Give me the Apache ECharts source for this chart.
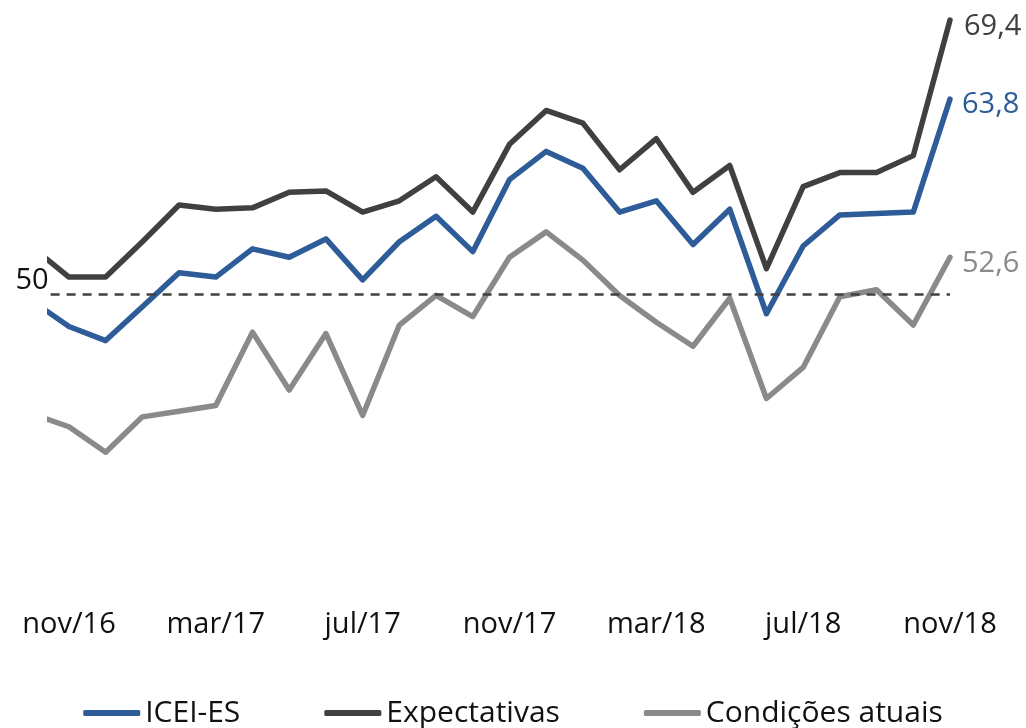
<!DOCTYPE html>
<html>
	<head>
		<meta charset="UTF-8">
		<title>ICEI-ES</title>
		<script type="text/javascript" src="https://cdn.jsdelivr.net/npm/echarts@6/dist/echarts.min.js"></script>
		<style>
			html, body { margin: 0; padding: 0; background: #fff; }
		</style>
	</head>
	<body>
	<div id="main" style="width: 1026px;height: 728px;"></div>
	<script type="text/javascript">
		// meses (indice 0 = out/16, cortado na borda do grafico)
		var meses = ['out/16','nov/16','dez/16','jan/17','fev/17','mar/17','abr/17','mai/17','jun/17',
			'jul/17','ago/17','set/17','out/17','nov/17','dez/17','jan/18','fev/18','mar/18','abr/18',
			'mai/18','jun/18','jul/18','ago/18','set/18','out/18','nov/18'];
		var rotulos = [1, 5, 9, 13, 17, 21, 25]; // nov/16, mar/17 ... nov/18

		var icei = [49.5, 47.7, 46.7, 49.1, 51.5, 51.2, 53.2, 52.6, 53.9, 51.0, 53.7, 55.5, 53.0,
			58.1, 60.1, 58.9, 55.8, 56.6, 53.5, 56.0, 48.6, 53.4, 55.6, 55.7, 55.8, 63.8];
		var expectativas = [53.3, 51.2, 51.2, 53.7, 56.3, 56.0, 56.1, 57.2, 57.3, 55.8, 56.6, 58.3, 55.8,
			60.6, 63.0, 62.1, 58.8, 61.0, 57.2, 59.1, 51.8, 57.6, 58.6, 58.6, 59.8, 69.4];
		var condicoes = [41.5, 40.6, 38.8, 41.3, 41.7, 42.1, 47.3, 43.2, 47.2, 41.4, 47.8, 49.9, 48.4,
			52.6, 54.4, 52.4, 49.9, 48.0, 46.3, 49.7, 42.6, 44.8, 49.8, 50.3, 47.8, 52.6];
		var referencia = 50;

		var fonte = '"Open Sans", "Noto Sans", sans-serif';

		function pares(arr) {
			return arr.map(function (v, i) { return [i, v]; });
		}
		function virgula(p) {
			return p.value[1].toFixed(1).replace('.', ',');
		}

		var myChart = echarts.init(document.getElementById("main"));

		var option = {
			animation: false,
			textStyle: { fontFamily: fonte },
			grid: { left: 50.6, right: 70.5, top: 11.6, bottom: 151.6 },
			legend: {
				data: ['ICEI-ES', 'Expectativas', 'Condições atuais'],
				left: 'center',
				top: 691,
				icon: 'roundRect',
				itemWidth: 57,
				itemHeight: 6,
				itemGap: 84,
				textStyle: { fontSize: 30, color: '#111', fontFamily: fonte, lineHeight: 34 }
			},
			xAxis: {
				type: 'value',
				min: 0.5,
				max: 25.15,
				axisLine: { show: false },
				axisTick: { show: false },
				splitLine: { show: false },
				axisLabel: {
					customValues: rotulos,
					margin: 34,
					fontSize: 29,
					lineHeight: 29,
					color: '#111',
					fontFamily: fonte,
					formatter: function (v) { return meses[v]; }
				}
			},
			yAxis: {
				type: 'value',
				min: 30,
				max: 70,
				axisLine: { show: false },
				axisTick: { show: false },
				splitLine: { show: false },
				axisLabel: {
					customValues: [referencia],
					margin: 2,
					fontSize: 29,
					lineHeight: 26,
					color: '#111',
					fontFamily: fonte,
					verticalAlign: 'bottom'
				}
			},
			series: [{
				name: 'ICEI-ES',
				type: 'line',
				z: 4,
				color: '#2E5C98',
				showSymbol: false,
				lineStyle: { width: 5.5, cap: 'round', join: 'round' },
				data: pares(icei),
				endLabel: {
					show: true, formatter: virgula, fontSize: 29, color: '#2E5C98',
					fontFamily: fonte, distance: 12, offset: [0, 6]
				}
			}, {
				name: 'Expectativas',
				type: 'line',
				z: 3,
				color: '#404040',
				showSymbol: false,
				lineStyle: { width: 5.5, cap: 'round', join: 'round' },
				data: pares(expectativas),
				endLabel: {
					show: true, formatter: virgula, fontSize: 29, color: '#404040',
					fontFamily: fonte, distance: 14, offset: [0, 7]
				}
			}, {
				name: 'Condições atuais',
				type: 'line',
				z: 2,
				color: '#8A8A8A',
				showSymbol: false,
				lineStyle: { width: 5.5, cap: 'round', join: 'round' },
				data: pares(condicoes),
				endLabel: {
					show: true, formatter: virgula, fontSize: 29, color: '#8A8A8A',
					fontFamily: fonte, distance: 12, offset: [0, 6]
				},
				markLine: {
					silent: true,
					symbol: 'none',
					label: { show: false },
					lineStyle: { color: '#404040', width: 2.5, type: [9, 7] },
					data: [[{ coord: [0.5, referencia] }, { coord: [25, referencia] }]]
				}
			}]
		};
		myChart.setOption(option);
	</script>
</body>
</html>
